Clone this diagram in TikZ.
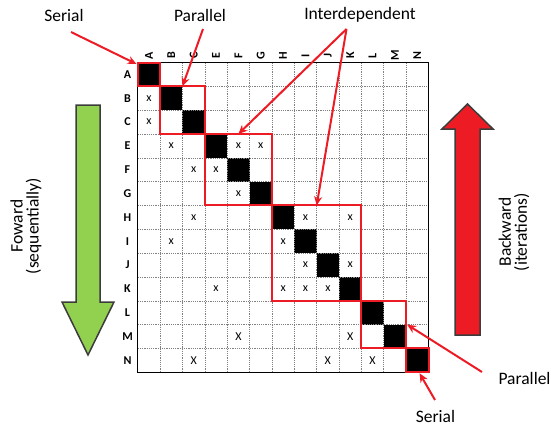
\documentclass[tikz,border=0pt]{standalone}
\usepackage{fontspec}
\setmainfont{Carlito}
\usetikzlibrary{arrows.meta,calc}
\definecolor{myred}{RGB}{237,28,36}
\definecolor{mygreen}{RGB}{146,208,80}
\definecolor{outl}{RGB}{60,60,60}
\begin{document}
\begin{tikzpicture}[x=1pt,y=-1pt,
  lbl/.style={font=\fontsize{17.5}{16}\selectfont, inner sep=0pt, align=center},
  axl/.style={font=\fontsize{12}{14}\selectfont\bfseries, inner sep=0pt},
  mk/.style={font=\fontsize{12}{14}\selectfont, inner sep=0pt},
  redbox/.style={draw=myred, line width=2pt},
  redarrow/.style={draw=myred, line width=2pt, -{Stealth[length=9pt,width=8pt]}},
  bigarrow/.style={draw=outl, line width=1.5pt, line join=miter}]
\useasboundingbox (0,0) rectangle (551,429);
\def\X{137.7}\def\Y{62.5}\def\W{22.37}\def\H{23.83}
% black diagonal cells
\foreach \i in {0,...,12}
  \fill ({\X+\i*\W},{\Y+\i*\H}) rectangle ++(\W,\H);
% inner dashed grid
\foreach \i in {1,...,12} {
  \draw[gray, line width=0.6pt, dash pattern=on 1.2pt off 1pt] ({\X+\i*\W},\Y) -- ({\X+\i*\W},{\Y+13*\H});
  \draw[gray, line width=0.6pt, dash pattern=on 1.2pt off 1pt] (\X,{\Y+\i*\H}) -- ({\X+13*\W},{\Y+\i*\H});
}
\draw[line width=1.5pt] (\X,\Y) rectangle ({\X+13*\W},{\Y+13*\H});
% labels of rows and columns
\foreach \l [count=\i from 0] in {A,B,C,E,F,G,H,I,J,K,L,M,N} {
  \node[axl, rotate=90] (col\l) at ({\X+(\i+0.5)*\W},55.5) {\l};
  \node[axl] (row\l) at (127.5,{\Y+(\i+0.5)*\H}) {\l};
}
% marks
\foreach \c/\r/\t [count=\k] in {0/1/x,0/2/x,1/3/x,4/3/x,5/3/x,2/4/x,3/4/x,4/5/x,
  2/6/x,7/6/x,9/6/x,1/7/x,6/7/x,7/8/x,9/8/x,3/9/x,6/9/x,7/9/x,8/9/x,
  4/11/X,9/11/X,2/12/X,8/12/X,10/12/X}
  \node[mk] (m\k) at ({\X+(\c+0.5)*\W},{\Y+(\r+0.5)*\H}) {\t};
% red boxes
\draw[redbox] (\X,\Y) rectangle ++(\W,\H);
\draw[redbox] ({\X+1*\W},{\Y+1*\H}) rectangle ++({2*\W},{2*\H});
\draw[redbox] ({\X+3*\W},{\Y+3*\H}) rectangle ++({3*\W},{3*\H});
\draw[redbox] ({\X+6*\W},{\Y+6*\H}) rectangle ++({4*\W},{4*\H});
\draw[redbox] ({\X+10*\W},{\Y+10*\H}) rectangle ++({2*\W},{2*\H});
\draw[redbox] ({\X+12*\W},{\Y+12*\H}) rectangle ++({\W},{\H});
% targets
\coordinate (tA) at (136.5,64);
\coordinate (tBC) at ({\X+2*\W},{\Y+\H});
\coordinate (tEG) at ({\X+4.5*\W},{\Y+3*\H});
\coordinate (tHK) at ({\X+8*\W},{\Y+6*\H});
\coordinate (tLM) at ({\X+12*\W+1},{\Y+11*\H});
\coordinate (tN) at ({\X+12.6*\W},{\Y+13*\H+1});
% text labels
\node[lbl] (serial1) at (64,15) {Serial};
\node[lbl] (par1) at (200,15) {Parallel};
\node[lbl] (inter) at (360,15) {Interdependent};
\node[lbl] (par2) at (524.5,378) {Parallel};
\node[lbl] (serial2) at (435.5,416) {Serial};
\coordinate (sS1) at (71,32);
\coordinate (sP1) at (203,29);
\coordinate (sI) at (346.5,29);
\coordinate (sP2) at (482,372);
\coordinate (sS2) at (435,400);
\draw[redarrow] (sS1) -- (tA);
\draw[redarrow] (sP1) -- (tBC);
\draw[redarrow] (sI) -- (tEG);
\draw[redarrow] (sI) -- (tHK);
\draw[redarrow] (sP2) -- (tLM);
\draw[redarrow] (sS2) -- (tN);
% big arrows
\draw[bigarrow, fill=mygreen] (76,105) -- (100,105) -- (100,302) -- (114,302) -- (88,355) -- (62,302) -- (76,302) -- cycle;
\draw[bigarrow, fill=myred] (455,335) -- (480,335) -- (480,129) -- (493,129) -- (467.5,104) -- (442,129) -- (455,129) -- cycle;
\node[lbl, rotate=90] (fw) at (26,226) {Foward\\(sequentially)};
\node[lbl, rotate=90] (bw) at (514,232) {Backward\\(iterations)};
\end{tikzpicture}
\end{document}
